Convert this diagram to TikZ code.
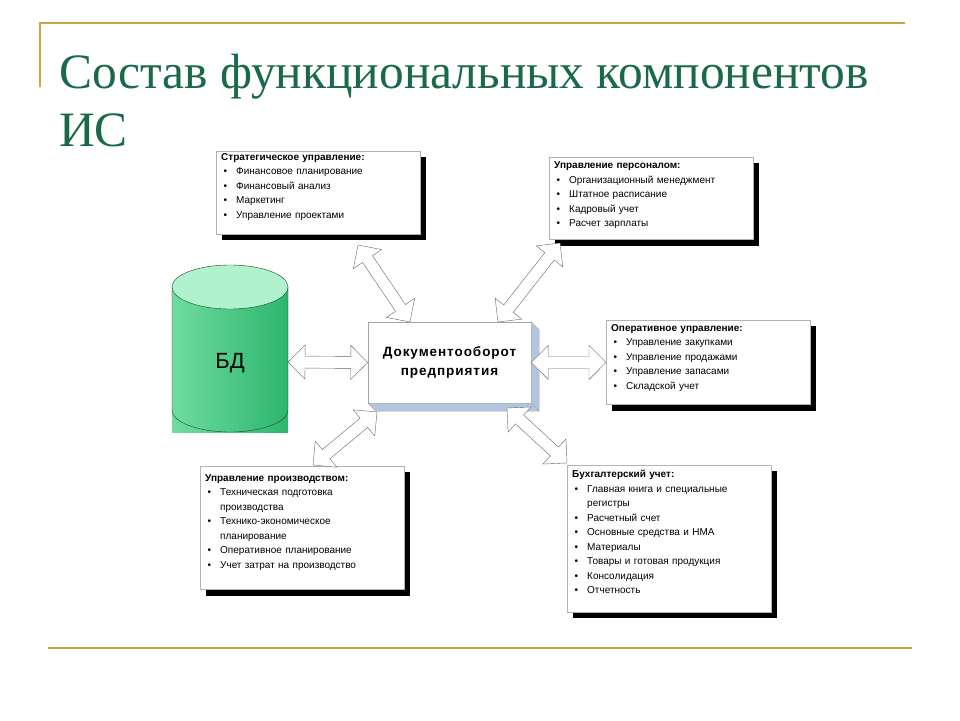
\documentclass[tikz,border=0pt]{standalone}
\usepackage{fontspec}
\setmainfont{Liberation Sans}
\newfontfamily\titlefont{Liberation Serif}
\newfontfamily\docfont[LetterSpace=7]{Liberation Sans}
\usetikzlibrary{positioning, calc, shadows}

\definecolor{gold}{RGB}{200,166,70}
\definecolor{titlegreen}{RGB}{26,105,72}
\definecolor{bdlight}{RGB}{176,242,205}
\definecolor{bdmid}{RGB}{112,220,160}
\definecolor{bddark}{RGB}{44,182,108}
\definecolor{bdline}{RGB}{30,70,45}
\definecolor{sideblue}{RGB}{178,196,222}

% bullet line inside a panel
\newcommand{\itm}[1]{\par\hangindent=15pt\hangafter=1\noindent\makebox[15pt][l]{\hspace{2.5pt}\textbullet}#1}

% outlined double block arrow between two named points
\newcommand{\dblarrow}[2]{%
  \coordinate (ah) at ($(#1)!17pt!(#2)$);
  \coordinate (bh) at ($(#2)!17pt!(#1)$);
  \draw[blockarrow] (#1) -- ($(ah)!17pt!90:(#2)$) -- ($(ah)!6pt!90:(#2)$)
    -- ($(bh)!6pt!-90:(#1)$) -- ($(bh)!17pt!-90:(#1)$) -- (#2)
    -- ($(bh)!17pt!90:(#1)$) -- ($(bh)!6pt!90:(#1)$)
    -- ($(ah)!6pt!-90:(#2)$) -- ($(ah)!17pt!-90:(#2)$) -- cycle;}

\tikzset{
  goldline/.style={draw=gold, line width=2.5pt},
  title/.style={anchor=base west, inner sep=0pt, text=titlegreen, font=\titlefont\fontsize{49.5}{56}\selectfont},
  panel/.style={draw=gray!60, fill=white, anchor=north west, text width=194pt,
    inner xsep=5pt, inner ysep=2pt, align=left, font=\fontsize{10}{14.5}\selectfont,
    drop shadow={shadow xshift=6pt, shadow yshift=-6pt, fill=black, opacity=1}},
  docbox/.style={draw=gray!70, fill=white, minimum width=163pt, minimum height=81pt,
    align=center, font=\docfont\bfseries\fontsize{13.5}{19}\selectfont},
  blockarrow/.style={draw=gray!80!black, fill=white, line join=miter, thin}
}

\begin{document}
\begin{tikzpicture}[x=1pt, y=-1pt]
  \useasboundingbox (0,0) rectangle (960,720);

  % frame lines
  \draw[goldline] (40,87) -- (40,23) -- (905,23);
  \draw[goldline] (48,648) -- (912,648);

  % title
  \node[title] (ttl) at (59,88) {Состав функциональных компонентов};
  \node[title] (ttl2) at (59,146) {ИС};

  % database
  \fill[left color=bdmid, right color=bddark] (172,287) rectangle (288,432);
  \draw[bdline] (172,287) -- (172,410)
    arc[start angle=180, end angle=360, x radius=58pt, y radius=22pt] -- (288,287);
  \draw[bdline, fill=bdlight] (230,287) ellipse[x radius=58pt, y radius=22pt];
  \node[font=\fontsize{22}{24}\selectfont] (bd) at (230,363) {БД};
  \coordinate (bdE) at (288,362);

  % function panels
  \node[panel, text depth=72pt] (strat) at (216,151) {\textbf{Стратегическое управление:}
    \itm{Финансовое планирование}
    \itm{Финансовый анализ}
    \itm{Маркетинг}
    \itm{Управление проектами}};
  \node[panel, inner ysep=4.5pt, text depth=66.5pt] (pers) at (549,157) {\textbf{Управление персоналом:}
    \itm{Организационный менеджмент}
    \itm{Штатное расписание}
    \itm{Кадровый учет}
    \itm{Расчет зарплаты}};
  \node[panel, inner ysep=4pt, text depth=69.5pt] (opr) at (606,320) {\textbf{Оперативное управление:}
    \itm{Управление закупками}
    \itm{Управление продажами}
    \itm{Управление запасами}
    \itm{Складской учет}};
  \node[panel, inner ysep=8pt, text depth=100.5pt] (prod) at (200,466) {\textbf{Управление производством:}
    \itm{Техническая подготовка\newline производства}
    \itm{Технико-экономическое\newline планирование}
    \itm{Оперативное планирование}
    \itm{Учет затрат на производство}};
  \node[panel, inner ysep=5pt, text depth=129.5pt] (acct) at (567,465) {\textbf{Бухгалтерский учет:}
    \itm{Главная книга и специальные\newline регистры}
    \itm{Расчетный счет}
    \itm{Основные средства и НМА}
    \itm{Материалы}
    \itm{Товары и готовая продукция}
    \itm{Консолидация}
    \itm{Отчетность}};

  % document flow block
  \node[docbox] (doc) at (449.5,362.5) {Документооборот\\предприятия};
  \draw[draw=gray!70, fill=sideblue] (doc.north east) -- ++(8,8) -- ++(0,81) -- (doc.south east) -- cycle;
  \draw[draw=gray!70, fill=sideblue] (doc.south west) -- (doc.south east) -- ++(8,8) -- ($(doc.south west)+(8,8)$) -- cycle;

  % arrow ends
  \coordinate (sT) at (358,245);
  \coordinate (sB) at (410,322);
  \coordinate (pT) at (560,243);
  \coordinate (pB) at (498,322);
  \coordinate (prT) at (377,412);
  \coordinate (prB) at (313,465);
  \coordinate (aT) at (507,408);
  \coordinate (aB) at (567,463);

  \dblarrow{bdE}{doc.west}
  \dblarrow{doc.east}{opr.west}
  \dblarrow{sT}{sB}
  \dblarrow{pT}{pB}
  \dblarrow{prT}{prB}
  \dblarrow{aT}{aB}
\end{tikzpicture}
\end{document}
